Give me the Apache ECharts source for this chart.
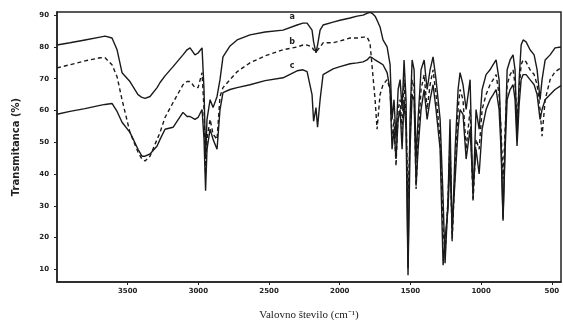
<!DOCTYPE html>
<html>
<head>
<meta charset="utf-8">
<script src="https://cdn.jsdelivr.net/npm/echarts@6/dist/echarts.min.js"></script>
<style>html,body{margin:0;padding:0;background:#fff;}#c{width:563px;height:326px;}</style>
</head>
<body>
<div id="c"></div>
<script>
const wavenumber = [4000,3908,3802,3696,3660,3611,3575,3540,3484,3427,3399,3377,3342,3292,3271,3236,3179,3109,3080,3059,3045,3024,3002,2974,2960,2949,2939,2917,2896,2868,2847,2826,2776,2726,2635,2528,2401,2302,2260,2231,2196,2185,2168,2157,2139,2118,2047,1998,1927,1877,1835,1807,1786,1771,1750,1736,1715,
1694,1665,1644,1630,1616,1602,1587,1573,1559,1545,1531,1517,1503,1488,1474,1460,1446,1425,1403,1382,1361,1340,1319,1290,1269,1255,1234,1220,1205,1184,1163,1149,1128,1106,1078,1057,1036,1014,993,965,937,915,894,873,859,845,830,816,795,774,760,746,731,717,703,682,654,625,604,583,569,547,512,477,435];

const seriesA = [80.6,81.3,82.2,83.1,83.4,82.8,79.1,71.9,69.1,65.0,64.1,63.8,64.4,67.2,68.8,70.9,73.8,77.5,79.1,79.7,79.7,77.5,78.1,79.7,66.6,44.7,57.2,63.4,60.9,64.4,69.7,76.9,80.3,82.2,83.8,84.7,85.3,86.9,87.5,87.5,85.3,81.6,78.1,80.6,85.3,86.9,87.8,88.4,89.1,89.7,90.0,90.6,90.9,90.6,89.7,88.4,86.3,
82.2,80.0,74.4,57.2,63.4,50.9,66.6,69.7,60.3,75.9,63.4,10.3,57.2,75.9,72.8,44.7,57.2,72.8,75.9,66.6,72.8,76.9,69.7,57.2,32.2,11.9,32.2,57.2,19.7,47.8,66.6,71.9,68.1,60.3,69.7,32.2,60.3,54.1,66.6,71.3,72.8,74.4,75.9,69.7,50.9,25.9,50.9,72.8,75.9,77.5,72.8,50.9,69.7,80.6,82.2,81.6,79.1,77.5,72.8,63.4,69.7,75.9,77.5,79.7,80.0];

const seriesB = [73.4,74.4,75.6,76.6,76.6,74.4,70.6,63.4,53.1,46.9,44.7,44.1,45.6,50.9,53.1,57.8,62.5,68.1,69.1,69.1,68.4,67.2,67.2,71.9,60.3,40.0,50.9,57.2,52.5,50.9,64.4,67.2,69.7,72.2,75.0,77.2,79.1,80.0,80.6,80.6,80.0,79.1,78.4,78.4,80.0,81.3,81.3,81.9,82.8,82.8,83.1,83.1,81.3,73.8,63.4,54.1,65.0,
68.1,69.7,66.6,50.9,57.2,42.5,60.3,63.4,54.1,69.7,57.2,32.2,50.9,69.7,66.6,35.3,50.9,66.6,71.3,60.3,68.1,72.8,65.0,50.9,22.8,15.0,32.2,50.9,18.8,41.6,60.3,66.6,63.4,47.8,60.3,31.3,50.9,47.8,60.3,65.0,68.1,69.7,71.3,65.0,54.1,38.4,54.1,68.1,71.3,72.8,68.1,57.2,66.6,74.4,75.9,75.3,72.8,71.3,68.1,60.3,51.9,63.4,69.7,72.2,73.4];

const seriesC = [58.8,59.7,60.6,61.6,61.9,62.2,59.7,56.3,53.1,47.8,45.6,45.6,46.3,48.8,50.9,54.1,54.7,59.4,58.1,58.1,57.8,57.2,57.8,60.3,50.9,34.7,47.8,54.1,50.9,47.8,60.3,65.6,66.6,67.2,68.1,69.4,70.3,72.5,72.8,72.2,65.0,56.6,60.9,54.7,63.4,71.3,73.1,73.8,74.7,75.0,75.3,75.9,76.9,76.6,75.9,75.3,75.0,
74.4,71.9,66.6,47.8,54.1,44.7,57.2,60.3,47.8,63.4,54.1,8.1,47.8,65.0,63.4,36.3,47.8,60.3,66.6,57.2,63.4,68.1,60.3,47.8,11.3,19.7,29.1,44.7,22.8,38.4,54.1,60.3,58.8,44.7,54.1,35.3,47.8,40.0,54.1,60.3,63.4,65.0,66.6,60.3,47.8,25.3,47.8,63.4,66.6,68.1,63.4,48.8,61.9,69.7,71.3,71.3,69.7,68.1,65.0,57.2,60.3,63.4,65.0,66.6,67.8];

const xTicks = [3500,3000,2500,2000,1500,1000,500];
const yTicks = [10,20,30,40,50,60,70,80,90];
const seriesNames = ['a','b','c'];
const labelWavenumber = 2337;
const labelT = [89.4, 81.6, 74.1];

function pairs(ys){ return wavenumber.map((w,i)=>[w, ys[i]]); }

const chart = echarts.init(document.getElementById('c'), null, {renderer:'canvas'});
const lineCol = '#1a1a1a';
const mk = (name, ys, dashed, li) => ({
  name, type:'line', data: pairs(ys), showSymbol:false, symbol:'none',
  lineStyle:{color:lineCol, width:1.4, type: dashed ? [4,3] : 'solid'},
  animation:false,
  markPoint:{
    symbol:'circle', symbolSize:0,
    label:{show:true, formatter:name, color:'#222', fontSize:8, fontWeight:'bold', fontFamily:'DejaVu Sans'},
    data:[{coord:[labelWavenumber, labelT[li]]}]
  }
});

chart.setOption({
  animation:false,
  backgroundColor:'#fff',
  grid:{left:57, right:2, top:12, bottom:39, show:true, borderColor:'#222', borderWidth:1.5, backgroundColor:'transparent'},
  xAxis:{
    type:'value', inverse:true, min:435, max:4000,
    name:'Valovno število (cm⁻¹)', nameLocation:'middle', nameGap:28,
    nameTextStyle:{fontFamily:'Liberation Serif', fontSize:11, color:'#222'},
    axisLine:{show:true, onZero:false, lineStyle:{color:'#222', width:1.5}},
    axisTick:{show:true, length:3, customValues:xTicks, lineStyle:{color:'#222'}},
    axisLabel:{customValues:xTicks, formatter:v=>String(v), fontSize:7, fontWeight:'bold', color:'#222', fontFamily:'DejaVu Sans', margin:6},
    splitLine:{show:false}
  },
  yAxis:{
    type:'value', min:6, max:91,
    name:'Transmitanca (%)', nameLocation:'middle', nameGap:36, nameRotate:90,
    nameTextStyle:{fontFamily:'DejaVu Sans', fontWeight:'bold', fontSize:10, color:'#222'},
    axisLine:{show:true, lineStyle:{color:'#222', width:1.5}},
    axisTick:{show:true, length:3, customValues:yTicks, lineStyle:{color:'#222'}},
    axisLabel:{customValues:yTicks, fontSize:7, fontWeight:'bold', color:'#222', fontFamily:'DejaVu Sans', margin:8},
    splitLine:{show:false}
  },
  series:[
    mk(seriesNames[0], seriesA, false, 0),
    mk(seriesNames[1], seriesB, true, 1),
    mk(seriesNames[2], seriesC, false, 2)
  ]
});
</script>
</body>
</html>
